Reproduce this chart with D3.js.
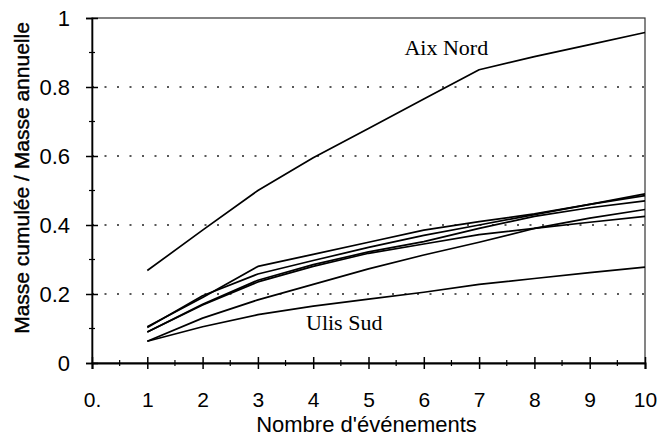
<!DOCTYPE html>
<html>
<head>
<meta charset="utf-8">
<script src="https://cdn.jsdelivr.net/npm/d3@7"></script>
<style>
  body { margin: 0; background: #fff; }
  svg { display: block; }
</style>
</head>
<body>
<div id="chart"></div>
<script>
// events 1..10
var events = [1, 2, 3, 4, 5, 6, 7, 8, 9, 10];

// cumulated mass / annual mass, one array per site
var aixNord = [0.268, 0.385, 0.50, 0.595, 0.68, 0.765, 0.85, 0.888, 0.923, 0.958];
var siteA   = [0.105, 0.19, 0.28, 0.315, 0.35, 0.385, 0.41, 0.432, 0.46, 0.49];
var siteB   = [0.103, 0.195, 0.258, 0.297, 0.335, 0.37, 0.40, 0.43, 0.46, 0.485];
var siteC   = [0.09, 0.17, 0.24, 0.285, 0.322, 0.352, 0.39, 0.425, 0.45, 0.47];
var siteD   = [0.09, 0.168, 0.235, 0.28, 0.318, 0.345, 0.372, 0.39, 0.408, 0.425];
var siteE   = [0.063, 0.13, 0.183, 0.228, 0.273, 0.313, 0.35, 0.39, 0.42, 0.445];
var ulisSud = [0.063, 0.105, 0.14, 0.165, 0.185, 0.205, 0.228, 0.245, 0.262, 0.278];

var series = [aixNord, siteA, siteB, siteC, siteD, siteE, ulisSud];

var xTicks = [0, 1, 2, 3, 4, 5, 6, 7, 8, 9, 10];
var xTickLabels = ["0.", "1", "2", "3", "4", "5", "6", "7", "8", "9", "10"];
var yTicks = [0, 0.2, 0.4, 0.6, 0.8, 1];
var yTickLabels = ["0", "0.2", "0.4", "0.6", "0.8", "1"];
var gridValues = [0.2, 0.4, 0.6, 0.8];

var labels = [
  {text: "Aix Nord", x: 5.65, y: 0.893},
  {text: "Ulis Sud", x: 3.87, y: 0.097}
];

var W = 661, H = 441;
var margin = {top: 18, right: 16, bottom: 78, left: 92};

var svg = d3.select("#chart")
  .append("svg")
    .attr("width", W)
    .attr("height", H);

var x = d3.scaleLinear()
  .domain([0, 10])
  .range([margin.left, W - margin.right]);

var y = d3.scaleLinear()
  .domain([0, 1])
  .range([H - margin.bottom, margin.top]);

// dotted grid
svg.append("g")
  .selectAll("line")
  .data(gridValues)
  .enter()
  .append("line")
    .attr("x1", x(0))
    .attr("x2", x(10))
    .attr("y1", d => y(d))
    .attr("y2", d => y(d))
    .attr("stroke", "#222")
    .attr("stroke-width", 1.6)
    .attr("stroke-dasharray", "2,10.5");

// frame
svg.append("rect")
  .attr("x", x(0))
  .attr("y", y(1))
  .attr("width", x(10) - x(0))
  .attr("height", y(0) - y(1))
  .attr("fill", "none")
  .attr("stroke", "#333")
  .attr("stroke-width", 1.2);

// minor ticks
svg.append("g")
  .selectAll("line")
  .data(d3.range(0.5, 10, 1))
  .enter()
  .append("line")
    .attr("x1", d => x(d)).attr("x2", d => x(d))
    .attr("y1", y(0) - 3).attr("y2", y(0) + 3)
    .attr("stroke", "#000").attr("stroke-width", 1.2);

svg.append("g")
  .selectAll("line")
  .data(d3.range(0.1, 1, 0.2))
  .enter()
  .append("line")
    .attr("x1", x(0) - 3).attr("x2", x(0) + 3)
    .attr("y1", d => y(d)).attr("y2", d => y(d))
    .attr("stroke", "#000").attr("stroke-width", 1.2);

// X axis
var xAxis = svg.append("g")
  .attr("transform", "translate(0," + y(0) + ")")
  .call(d3.axisBottom(x)
    .tickValues(xTicks)
    .tickFormat((d, i) => xTickLabels[i])
    .tickSizeOuter(0)
    .tickSize(6)
    .tickPadding(23));
xAxis.select(".domain").attr("stroke-width", 2);
xAxis.selectAll(".tick line").attr("y1", -6).attr("stroke-width", 1.5);
xAxis.selectAll("text")
  .style("font-family", "'Liberation Sans', Arial, sans-serif")
  .style("font-size", "21px")
  .style("fill", "#000");

// Y axis
var yAxis = svg.append("g")
  .attr("transform", "translate(" + x(0) + ",0)")
  .call(d3.axisLeft(y)
    .tickValues(yTicks)
    .tickFormat((d, i) => yTickLabels[i])
    .tickSizeOuter(0)
    .tickSize(6)
    .tickPadding(16));
yAxis.select(".domain").attr("stroke-width", 1.6);
yAxis.selectAll(".tick line").attr("x1", 6).attr("stroke-width", 1.5);
yAxis.selectAll("text")
  .style("font-family", "'Liberation Sans', Arial, sans-serif")
  .style("font-size", "22px")
  .style("fill", "#000");

// lines
var line = d3.line()
  .x((d, i) => x(events[i]))
  .y(d => y(d));

svg.append("g")
  .selectAll("path")
  .data(series)
  .enter()
  .append("path")
    .attr("d", line)
    .attr("fill", "none")
    .attr("stroke", "#000")
    .attr("stroke-width", 1.7)
    .attr("stroke-linejoin", "round");

// site labels
svg.append("g")
  .selectAll("text")
  .data(labels)
  .enter()
  .append("text")
    .attr("x", d => x(d.x))
    .attr("y", d => y(d.y))
    .text(d => d.text)
    .style("font-family", "'Liberation Serif', 'Times New Roman', serif")
    .style("font-size", "22px")
    .style("fill", "#000");

// axis titles
svg.append("text")
  .attr("x", (x(0) + x(10)) / 2 - 2)
  .attr("y", 432)
  .attr("text-anchor", "middle")
  .text("Nombre d'événements")
  .style("font-family", "'Liberation Sans', Arial, sans-serif")
  .style("font-size", "22px")
  .style("fill", "#000");

svg.append("text")
  .attr("transform", "translate(29," + 178 + ") rotate(-90)")
  .attr("text-anchor", "middle")
  .text("Masse cumulée / Masse annuelle")
  .style("font-family", "'Liberation Sans', Arial, sans-serif")
  .style("font-size", "21px")
  .style("fill", "#000")
  .style("stroke", "#000")
  .style("stroke-width", 0.4);
</script>
</body>
</html>
